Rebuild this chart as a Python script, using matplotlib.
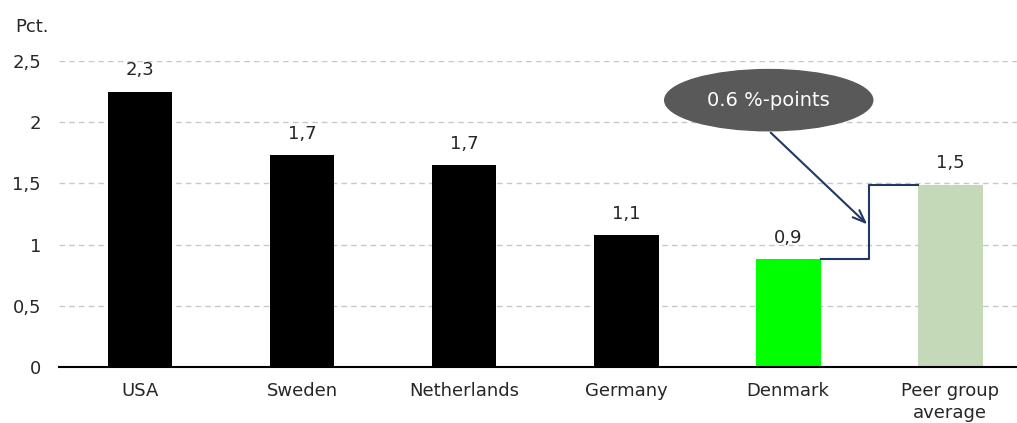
import numpy as np
import matplotlib.pyplot as plt
from matplotlib.patches import Ellipse

countries = ["USA", "Sweden", "Netherlands", "Germany", "Denmark", "Peer group\naverage"]
values = [2.25, 1.73, 1.65, 1.08, 0.88, 1.49]
labels = ["2,3", "1,7", "1,7", "1,1", "0,9", "1,5"]
colors = ["black", "black", "black", "black", "#00FF00", "#C4D9B7"]
yticks = [0, 0.5, 1, 1.5, 2, 2.5]
ytick_labels = ["0", "0,5", "1", "1,5", "2", "2,5"]
gap_text = "0.6 %-points"

plt.rcParams['font.family'] = ['DejaVu Sans']
text_col = "#262626"
line_col = "#1F3864"
fs = 13

fig = plt.figure(figsize=(10.17, 4.23), dpi=100)
ax = fig.add_axes([0.058, 0.1324, 0.956, 0.7234])

x = np.arange(len(countries))
ax.bar(x, values, width=0.4, color=colors, zorder=3)

for xi, v, lab in zip(x, values, labels):
    ax.text(xi, v + 0.1, lab, ha="center", va="bottom", fontsize=fs, color=text_col)

ax.set_xlim(-0.5, 5.5)
ax.set_ylim(0, 2.5)
ax.set_yticks(yticks)
ax.set_yticklabels(ytick_labels, fontsize=fs, color=text_col)
ax.set_xticks(x)
ax.set_xticklabels(countries, fontsize=fs, color=text_col, linespacing=1.25)
ax.tick_params(axis="both", length=0)
ax.tick_params(axis="x", pad=11)
ax.tick_params(axis="y", pad=13)

ax.yaxis.grid(True, linestyle=(0, (4, 3)), color="#C8C8C8", linewidth=1, zorder=0)
for s in ["top", "right", "left"]:
    ax.spines[s].set_visible(False)
ax.spines["bottom"].set_linewidth(1.5)
ax.spines["bottom"].set_zorder(4)

fig.text(15 / 1017, 1 - 27 / 423, "Pct.", ha="left", va="center", fontsize=fs, color=text_col)

# step connector between Denmark and peer average
mid = 4.5
ax.plot([4 + 0.2, mid, mid, 5 - 0.2], [values[4], values[4], values[5], values[5]],
        color=line_col, lw=1.5, zorder=4, clip_on=False)

# bubble and arrow
ell = Ellipse((3.88, 2.18), 1.284, 0.5, color="#595959", zorder=5, clip_on=False)
ax.add_patch(ell)
ax.text(3.88, 2.18, gap_text, ha="center", va="center", fontsize=14, color="white", zorder=6)
ax.annotate("", xy=(mid, 1.15), xytext=(3.88, 1.93),
            arrowprops=dict(arrowstyle="->,head_length=0.9,head_width=0.35",
                            color=line_col, lw=1.5), zorder=4)

fig.savefig("out.png", dpi=100)
